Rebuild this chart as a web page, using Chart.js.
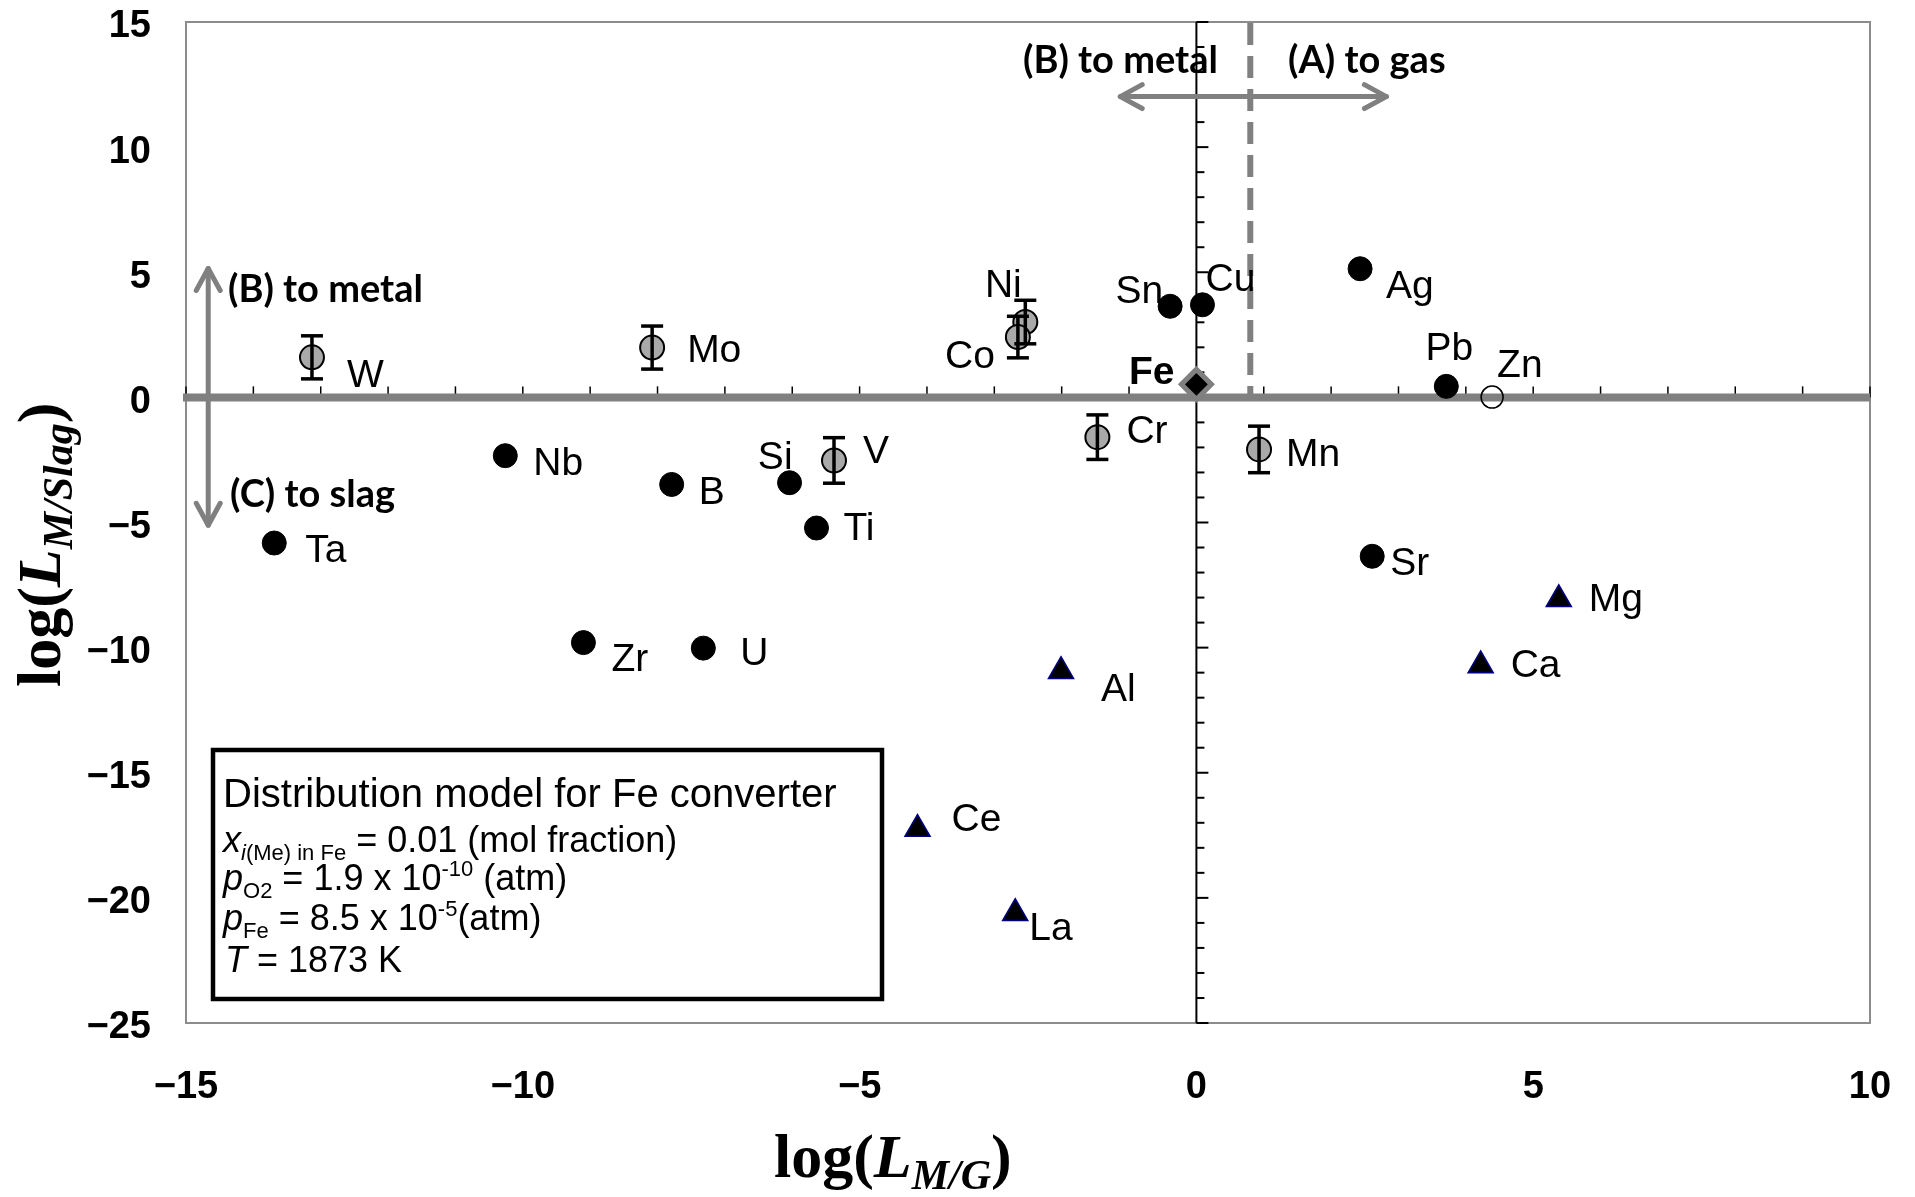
<!DOCTYPE html>
<html>
<head>
<meta charset="utf-8">
<script src="https://cdn.jsdelivr.net/npm/chart.js@4.4.1/dist/chart.umd.min.js"></script>
<style>
  html, body { margin: 0; padding: 0; background: #fff; }
  canvas { display: block; }
</style>
</head>
<body>
<canvas id="chart" width="1915" height="1197"></canvas>
<script>
// black dots
const dotNames = ["Sn", "Cu", "Ag", "Pb", "Nb", "B", "Si", "Ti", "Ta", "Zr", "U", "Sr"];
const dotX = [-0.39, 0.09, 2.43, 3.71, -10.26, -7.79, -6.04, -5.64, -13.69, -9.10, -7.32, 2.61];
const dotY = [3.64, 3.70, 5.14, 0.44, -2.33, -3.48, -3.41, -5.22, -5.82, -9.80, -10.02, -6.35];

// grey dots with error bars
const errNames = ["W", "Mo", "Ni", "Co", "Cr", "Mn", "V"];
const errX = [-13.13, -8.08, -2.54, -2.65, -1.47, 0.93, -5.38];
const errY = [1.60, 1.99, 3.01, 2.41, -1.59, -2.08, -2.52];
const errSize = [0.86, 0.86, 0.87, 0.83, 0.89, 0.93, 0.91];

// triangles
const triNames = ["Mg", "Ca", "Al", "Ce", "La"];
const triX = [5.38, 4.22, -2.01, -4.14, -2.69];
const triY = [-8.07, -10.71, -10.94, -17.25, -20.61];

// open circle and the Fe reference
const znNames = ["Zn"];
const znX = [4.39];
const znY = [0.01];
const feNames = ["Fe"];
const feX = [0];
const feY = [0.52];

const xTicks = [-15, -10, -5, 0, 5, 10];
const yTicks = [15, 10, 5, 0, -5, -10, -15, -20, -25];

// gas / metal boundary (dashed line)
const gasLimit = 0.8;

// label offsets in px from the marker: [dx, dy to cap middle, align]
const labelPos = {
    W: [35, 16, "left"], Mo: [35, 0, "left"], Ni: [-22, -39, "center"], Co: [-23, 17, "right"],
    Sn: [-7, -17, "right"], Cu: [3, -28, "left"], Ag: [26, 15, "left"], Pb: [3, -40, "center"],
    Zn: [5, -34, "left"], Fe: [-22, -14, "right"], Cr: [29, -8, "left"], Mn: [27, 3, "left"],
    Nb: [28, 5, "left"], B: [27, 6, "left"], Si: [3, -28, "right"], V: [29, -11, "left"],
    Ti: [27, -2, "left"], Ta: [31, 5, "left"], Zr: [28, 14, "left"], U: [37, 3, "left"],
    Sr: [18, 5, "left"], Mg: [30, -2, "left"], Ca: [30, -2, "left"], Al: [40, 16, "left"],
    Ce: [34, -12, "left"], La: [14, 13, "left"]
}

function pts(xs, ys) {
    return xs.map((x, i) => ({x: x, y: ys[i]}))
}

function fmt(v) {
    return v < 0 ? "\u2212" + Math.abs(v) : String(v)
}

// keep chart.js from growing the margins for the edge tick labels
function noOverflow(s) {
    s.paddingTop = 0;
    s.paddingBottom = 0;
    s.paddingLeft = 0;
    s.paddingRight = 0;
}

const sans = '"Liberation Sans", Arial, sans-serif'
const serif = '"Liberation Serif", "Times New Roman", serif'
const tickFont = {family: sans, size: 38, weight: "bold"}

function line(ctx, x1, y1, x2, y2) {
    ctx.beginPath();
    ctx.moveTo(x1, y1);
    ctx.lineTo(x2, y2);
    ctx.stroke();
}

function arrowHead(ctx, tx, ty, dirx, diry) {
    // open chevron pointing along (dirx, diry)
    const len = 25, spread = 0.5;
    const ang = Math.atan2(diry, dirx);
    ctx.beginPath();
    ctx.moveTo(tx - len * Math.cos(ang - spread), ty - len * Math.sin(ang - spread));
    ctx.lineTo(tx, ty);
    ctx.lineTo(tx - len * Math.cos(ang + spread), ty - len * Math.sin(ang + spread));
    ctx.stroke();
}

// draws a list of [text, font, dy] pieces one after another
function richText(ctx, parts, x, y) {
    let cx = x;
    parts.forEach(p => {
        ctx.font = p[1];
        ctx.fillText(p[0], cx, y + (p[2] || 0));
        cx += ctx.measureText(p[0]).width;
    });
}

const decor = {
    id: "decor",
    beforeDatasetsDraw(chart) {
        const {ctx, chartArea: a, scales: {x, y}} = chart;
        const x0 = x.getPixelForValue(0);
        const y0 = y.getPixelForValue(0);
        ctx.save();
        // frame
        ctx.strokeStyle = "#8c8c8c";
        ctx.lineWidth = 2;
        ctx.strokeRect(a.left, a.top, a.right - a.left, a.bottom - a.top);

        // black axis through x = 0
        ctx.strokeStyle = "#000";
        ctx.lineWidth = 2;
        line(ctx, x0, a.top, x0, a.bottom);
        for (let v = -25; v <= 15; v++) {
            const py = y.getPixelForValue(v);
            line(ctx, x0, py, x0 + (v % 5 === 0 ? 12 : 8), py);
        }
        // small ticks on the y = 0 line
        ctx.lineWidth = 1.5;
        for (let v = -15; v <= 10; v++) {
            const px = x.getPixelForValue(v);
            line(ctx, px, y0, px, y0 - 11);
        }
        // dashed gas limit
        ctx.strokeStyle = "#808080";
        ctx.lineWidth = 6;
        ctx.setLineDash([22, 11]);
        const xd = x.getPixelForValue(gasLimit);
        line(ctx, xd, a.top + 1, xd, y0);
        ctx.setLineDash([]);
        // thick grey line at y = 0
        ctx.lineWidth = 8;
        line(ctx, a.left - 3, y0, a.right, y0);

        // arrows
        ctx.lineWidth = 5;
        ctx.lineCap = "round";
        ctx.lineJoin = "round";
        const ax1 = x.getPixelForValue(-1.13), ax2 = x.getPixelForValue(2.82), ay = y.getPixelForValue(12.02);
        line(ctx, ax1, ay, ax2, ay);
        arrowHead(ctx, ax1, ay, -1, 0);
        arrowHead(ctx, ax2, ay, 1, 0);
        const bx = x.getPixelForValue(-14.67), by1 = y.getPixelForValue(5.15), by2 = y.getPixelForValue(-5.11);
        line(ctx, bx, by1, bx, by2);
        arrowHead(ctx, bx, by1, 0, -1);
        arrowHead(ctx, bx, by2, 0, 1);
        ctx.restore();
    },
    afterDatasetsDraw(chart) {
        const {ctx, scales: {x, y}} = chart;
        ctx.save();
        // error bars sit on top of the grey dots
        ctx.strokeStyle = "#000";
        ctx.lineWidth = 3.5;
        errX.forEach((v, i) => {
            const px = x.getPixelForValue(v);
            const top = y.getPixelForValue(errY[i] + errSize[i]);
            const bot = y.getPixelForValue(errY[i] - errSize[i]);
            line(ctx, px, top, px, bot);
            line(ctx, px - 11, top, px + 11, top);
            line(ctx, px - 11, bot, px + 11, bot);
        });

        // element labels
        ctx.fillStyle = "#000";
        ctx.textBaseline = "alphabetic";
        const groups = [[dotNames, dotX, dotY], [errNames, errX, errY], [triNames, triX, triY],
            [znNames, znX, znY], [feNames, feX, feY]];
        groups.forEach(g => {
            g[0].forEach((name, i) => {
                const p = labelPos[name];
                ctx.font = (name === "Fe" ? "bold " : "") + "39px " + sans;
                ctx.textAlign = p[2];
                ctx.fillText(name, x.getPixelForValue(g[1][i]) + p[0], y.getPixelForValue(g[2][i]) + p[1] + 14);
            });
        });

        // arrow captions
        ctx.textAlign = "left";
        ctx.font = "bold 38px Lato, sans-serif";
        ctx.fillText("(B) to metal", 1023, 73);
        ctx.fillText("(A) to gas", 1288, 73);
        ctx.fillText("(B) to metal", 228, 302);
        ctx.fillText("(C) to slag", 230, 507);

        // condition box
        ctx.fillStyle = "#fff";
        ctx.fillRect(213, 750, 669, 249);
        ctx.strokeStyle = "#000";
        ctx.lineWidth = 4.5;
        ctx.strokeRect(213, 750, 669, 249);
        ctx.fillStyle = "#000";
        const f = "36px " + sans, fi = "italic 36px " + sans, s = "22px " + sans, si = "italic 22px " + sans;
        ctx.font = "40px " + sans;
        ctx.fillText("Distribution model for Fe converter", 223, 807);
        richText(ctx, [["x", fi], ["i", si, 8], ["(Me) in Fe", s, 8], [" = 0.01 (mol fraction)", f]], 223, 852);
        richText(ctx, [["p", fi], ["O2", s, 8], [" = 1.9 x 10", f], ["-10", s, -14], [" (atm)", f]], 223, 890);
        richText(ctx, [["p", fi], ["Fe", s, 8], [" = 8.5 x 10", f], ["-5", s, -14], ["(atm)", f]], 223, 930);
        richText(ctx, [["T", fi], [" = 1873 K", f]], 225, 972);

        // axis titles
        const tb = "bold 62px " + serif, ti = "bold italic 62px " + serif, ts = "bold italic 42px " + serif;
        richText(ctx, [["log(", tb], ["L", ti], ["M/G", ts, 12], [")", tb]], 774, 1177);
        ctx.translate(60, 687);
        ctx.rotate(-Math.PI / 2);
        richText(ctx, [["log(", tb], ["L", ti], ["M/Slag", ts, 12], [")", tb]], 0, 0);
        ctx.restore();
    }
}

new Chart(document.getElementById("chart"), {
    type: "scatter",
    data: {
        datasets: [
            {data: pts(dotX, dotY), pointRadius: 12, backgroundColor: "#000", borderColor: "#000", borderWidth: 1},
            {data: pts(errX, errY), pointRadius: 12, backgroundColor: "#a9a9a9", borderColor: "#000", borderWidth: 2},
            {data: pts(znX, znY), pointRadius: 11, backgroundColor: "rgba(255,255,255,0)", borderColor: "#000", borderWidth: 1.5},
            {data: pts(feX, feY), pointStyle: "rectRot", pointRadius: 15, backgroundColor: "#000", borderColor: "#808080", borderWidth: 5},
            {data: pts(triX, triY), pointStyle: "triangle", pointRadius: 14.5, backgroundColor: "#000", borderColor: "#000080", borderWidth: 1.5}
        ]
    },
    options: {
        responsive: false,
        animation: false,
        devicePixelRatio: 1,
        layout: {padding: {top: 22, right: 45, left: 0, bottom: 0}},
        plugins: {
            legend: {display: false},
            tooltip: {enabled: false}
        },
        elements: {point: {hoverRadius: 12}},
        scales: {
            x: {
                type: "linear", min: -15, max: 10,
                afterBuildTicks: s => { s.ticks = xTicks.map(v => ({value: v})) },
                afterFit: s => { s.height = 174; noOverflow(s) },
                grid: {display: false, drawTicks: false},
                border: {display: false},
                ticks: {font: tickFont, color: "#000", padding: 42, maxRotation: 0, autoSkip: false, callback: fmt}
            },
            y: {
                type: "linear", min: -25, max: 15,
                afterBuildTicks: s => { s.ticks = yTicks.map(v => ({value: v})) },
                afterFit: s => { s.width = 186; noOverflow(s) },
                grid: {display: false, drawTicks: false},
                border: {display: false},
                ticks: {font: tickFont, color: "#000", padding: 35, labelOffset: 5, autoSkip: false, callback: fmt}
            }
        }
    },
    plugins: [decor]
});
</script>
</body>
</html>
